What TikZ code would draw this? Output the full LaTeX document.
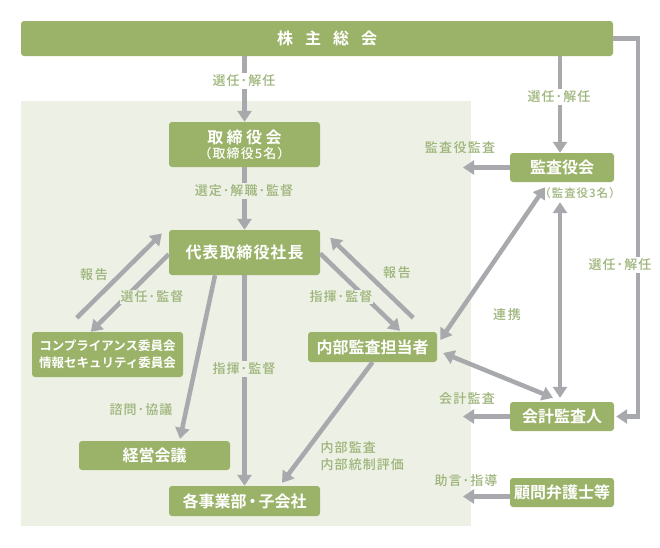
\documentclass[tikz,border=0pt]{standalone}
\usepackage{fontspec}
\setmainfont{Noto Sans CJK JP}[BoldFont={Noto Sans CJK JP Bold}]
\newfontfamily\lblfont{Noto Sans CJK JP Medium}[LetterSpace=8]
\newfontfamily\boxfont{Noto Sans CJK JP Bold}
\usetikzlibrary{arrows.meta,calc}
\definecolor{boxg}{HTML}{9BB369}
\definecolor{lblg}{HTML}{9DB47A}
\definecolor{arrg}{HTML}{A7A9AD}
\definecolor{bgc}{HTML}{EDF0E4}
\begin{document}
\begin{tikzpicture}[x=1pt,y=-1pt,
 box/.style={fill=boxg, rounded corners=3pt, text=white, font=\boxfont\fontsize{16}{19}\selectfont, inner sep=0pt, align=center},
 lbl/.style={text=lblg, font=\lblfont\fontsize{13}{17}\selectfont, inner sep=1.5pt, align=left},
 arr/.style={draw=arrg, line width=4.5pt, -{Triangle[width=14pt,length=11pt]}},
 darr/.style={draw=arrg, line width=4.5pt, {Triangle[width=14pt,length=11pt]}-{Triangle[width=14pt,length=11pt]}}]
\useasboundingbox (0,0) rectangle (660,547);
\fill[white] (0,0) rectangle (660,547);
\fill[bgc] (21,101) rectangle (471,526);

% boxes
\node[box, minimum width=592pt, minimum height=35pt] (kabu) at (317,38.5) {\hspace{20pt}株\hspace{12pt}主\hspace{12pt}総\hspace{12pt}会};
\node[box, minimum width=151pt, minimum height=45pt] (tori) at (244.5,144.5) {取\hspace{3.5pt}締\hspace{3.5pt}役\hspace{3.5pt}会\\[-4pt]{\lblfont\fontsize{13}{14}\selectfont （取締役5名）}};
\node[box, minimum width=151pt, minimum height=45pt] (daihyo) at (244.5,252.5) {代\hspace{1pt}表\hspace{1pt}取\hspace{1pt}締\hspace{1pt}役\hspace{1pt}社\hspace{1pt}長};
\node[box, minimum width=151pt, minimum height=45pt, font=\boxfont\fontsize{12.5}{17}\selectfont] (comp) at (107.5,354.5) {コンプライアンス委員会\\情報セキュリティ委員会};
\node[box, minimum width=129pt, minimum height=30pt] (naibu) at (372.5,347) {内部監査担当者};
\node[box, minimum width=151pt, minimum height=29pt] (keiei) at (154.5,455.5) {経営会議};
\node[box, minimum width=151pt, minimum height=30pt] (kaku) at (244.5,501) {各事業部\hspace{-2pt}・\hspace{-2pt}子会社};
\node[box, minimum width=104pt, minimum height=29pt] (kansa) at (562,167.5) {監査役会};
\node[box, minimum width=104pt, minimum height=29pt] (kaikei) at (562,416.5) {会計監査人};
\node[box, minimum width=104pt, minimum height=29pt] (komon) at (562,492.5) {顧問弁護士等};

% free ends
\coordinate (kansaL) at (463,167.5);
\coordinate (kaikeiL) at (463,416.5);
\coordinate (komonL) at (463,496.5);

% connectors
\draw[arr] (kabu.south -| tori.north) -- (tori.north);
\draw[arr] (tori.south) -- (daihyo.north);
\draw[arr] ($(daihyo.south west)+(0,-21)$) -- ($(comp.north west)+(59,0)$);
\draw[arr] ($(comp.north west)+(45,-14)$) -- ($(daihyo.west)+(-7,-19)$);
\draw[arr] ($(daihyo.south)+(-29.5,0)$) -- ($(keiei.north)+(25.5,-2)$);
\draw[arr] (daihyo.south) -- (kaku.north);
\draw[arr] ($(daihyo.east)+(0,1)$) -- ($(naibu.north)+(27.5,-1)$);
\draw[arr] ($(naibu.north east)+(-24,-14)$) -- ($(daihyo.north east)+(10,8)$);
\draw[arr] (naibu.south) -- ($(kaku.north)+(37.5,-3)$);
\draw[darr] ($(naibu.east)+(3,-7)$) -- ($(kansa.south)+(-17,5)$);
\draw[darr] ($(naibu.east)+(6,6)$) -- ($(kaikei.north)+(-9,-4)$);
\draw[darr] ($(kaikei.north)+(-2,-4)$) -- ($(kansa.south)+(-2,20)$);
\draw[arr] ($(kabu.south -| kansa.north)+(-2,0)$) -- ($(kansa.north)+(-2,0)$);
\draw[arr] (kabu.east) -- ++(25,0) |- ($(kaikei.east)+(2,0)$);
\draw[arr] (kansa.west) -- (kansaL);
\draw[arr] (kaikei.west) -- (kaikeiL);
\draw[arr] ($(komon.west)+(0,4)$) -- (komonL);

% labels
\node[lbl, fill=white] (l1) at (244,81) {選任･解任};
\node[lbl, fill=bgc] (l2) at (244,191) {選定･解職･監督};
\node[lbl] (l3) at (94,275) {報\hspace{2pt}告};
\node[lbl, fill=bgc, inner sep=0.5pt] (l4) at (152,297) {選任･監督};
\node[lbl] (l5) at (397,273) {報\hspace{2pt}告};
\node[lbl, fill=bgc, inner sep=0.5pt] (l6) at (341,297) {指揮･監督};
\node[lbl, fill=bgc] (l7) at (244,369) {指揮･監督};
\node[lbl] (l8) at (141,410) {諮問･協議};
\node[lbl, anchor=west] (l9) at (319,456) {内部監査\\内部統制評価};
\node[lbl, fill=white] (l10) at (559,97) {選任･解任};
\node[lbl, fill=white] (l11) at (620,265) {選任･解任};
\node[lbl] (l12) at (460,148) {監\hspace{1.3pt}査\hspace{1.3pt}役\hspace{1.3pt}監\hspace{1.3pt}査};
\node[lbl] (l13) at (467,399) {会\hspace{1.3pt}計\hspace{1.3pt}監\hspace{1.3pt}査};
\node[lbl] (l14) at (466,481) {助言･指導};
\node[lbl] (l15) at (507,315) {連\hspace{2pt}携};
\node[lbl, font=\lblfont\fontsize{11.5}{13}\selectfont] (l16) at (580,193) {（監査役3名）};
\end{tikzpicture}
\end{document}
